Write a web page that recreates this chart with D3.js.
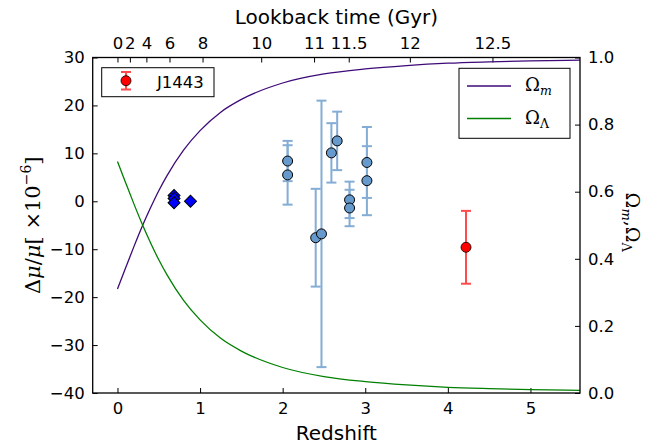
<!DOCTYPE html>
<html>
<head>
<meta charset="utf-8">
<script src="https://cdn.jsdelivr.net/npm/d3@7"></script>
<style>
  body { margin: 0; background: #fff; }
  text { font-family: "DejaVu Sans", sans-serif; fill: #000; }
  .serif { font-family: "DejaVu Serif", serif; }
</style>
</head>
<body>
<script>
// Measurements (redshift, delta mu / mu in 1e-6)
var blueZ = [2.06, 2.06, 2.40, 2.47, 2.59, 2.66, 2.81, 2.81, 3.02, 3.02];
var blueDmu = [8.4, 5.5, -7.6, -6.8, 10.1, 12.6, 0.3, -1.4, 8.1, 4.3];
var blueErr = [4.2, 6.2, 10.2, 27.8, 6.2, 6.1, 3.8, 3.8, 7.4, 7.2];

var diamondZ = [0.685, 0.685, 0.685, 0.884];
var diamondDmu = [1.2, 0.6, -0.3, 0.0];

var redZ = [4.22];
var redDmu = [-9.6];
var redErr = [7.6];

// Density parameters
var omegaZ = [0, 0.1, 0.2, 0.3, 0.4, 0.5, 0.6, 0.8, 1.0, 1.25, 1.5, 2, 2.5, 3, 3.5, 4, 4.5, 5, 5.6];
var omegaM = [0.310, 0.374, 0.437, 0.497, 0.552, 0.603, 0.648, 0.724, 0.782, 0.837, 0.875, 0.924, 0.951, 0.966, 0.976, 0.983, 0.987, 0.990, 0.992];
var omegaL = [0.690, 0.626, 0.563, 0.503, 0.448, 0.397, 0.352, 0.276, 0.218, 0.163, 0.125, 0.076, 0.049, 0.034, 0.024, 0.017, 0.013, 0.010, 0.008];

// Top axis: lookback time labels at their redshifts
var lookbackLabels = ['0', '2', '4', '6', '8', '10', '11', '11.5', '12', '12.5'];
var lookbackZ = [0, 0.15, 0.35, 0.63, 1.03, 1.74, 2.38, 2.8, 3.54, 4.54];

var bottomTicks = [0, 1, 2, 3, 4, 5];
var leftTicks = [-40, -30, -20, -10, 0, 10, 20, 30];
var rightTicks = [0, 0.2, 0.4, 0.6, 0.8, 1.0];

var width = 667;
var height = 447;
var plotLeft = 92.7, plotRight = 580, plotTop = 57.5, plotBottom = 393;

var svg = d3.select('body').append('svg').attr('width', width).attr('height', height);

var x = d3.scaleLinear().domain([-0.3, 5.6]).range([plotLeft, plotRight]);
var y = d3.scaleLinear().domain([-40, 30]).range([plotBottom, plotTop]);
var yR = d3.scaleLinear().domain([0, 1]).range([plotBottom, plotTop]);

var minus = function (s) { return s.replace('-', '\u2212'); };

// Axes, ticks pointing inward
var axisB = svg.append('g').attr('transform', 'translate(0,' + plotBottom + ')')
  .call(d3.axisBottom(x).tickValues(bottomTicks).tickSizeInner(-5).tickSizeOuter(0).tickPadding(9).tickFormat(d3.format('d')));
var axisT = svg.append('g').attr('transform', 'translate(0,' + plotTop + ')')
  .call(d3.axisTop(x).tickValues(lookbackZ).tickSizeInner(-5).tickSizeOuter(0).tickPadding(9)
    .tickFormat(function (d, i) { return lookbackLabels[i]; }));
var axisL = svg.append('g').attr('transform', 'translate(' + plotLeft + ',0)')
  .call(d3.axisLeft(y).tickValues(leftTicks).tickSizeInner(-5).tickSizeOuter(0).tickPadding(8)
    .tickFormat(function (d) { return minus(d3.format('d')(d)); }));
var axisR = svg.append('g').attr('transform', 'translate(' + plotRight + ',0)')
  .call(d3.axisRight(yR).tickValues(rightTicks).tickSizeInner(-5).tickSizeOuter(0).tickPadding(8).tickFormat(d3.format('.1f')));

[axisB, axisT, axisL, axisR].forEach(function (a) {
  a.select('.domain').remove();
  a.selectAll('.tick line').attr('stroke', '#000').attr('stroke-width', 1);
  a.selectAll('.tick text').style('font-family', '"DejaVu Sans", sans-serif').style('font-size', '16.5px').attr('fill', '#000');
});

// Omega curves
var line = d3.line().curve(d3.curveMonotoneX);
svg.append('path')
  .attr('d', line(omegaZ.map(function (z, i) { return [x(z), yR(omegaM[i])]; })))
  .attr('fill', 'none').attr('stroke', '#3d0a78').attr('stroke-width', 1.3);
svg.append('path')
  .attr('d', line(omegaZ.map(function (z, i) { return [x(z), yR(omegaL[i])]; })))
  .attr('fill', 'none').attr('stroke', '#008000').attr('stroke-width', 1.3);

// Error bars helper
var drawErrors = function (g, zs, vals, errs, color, opacity) {
  var d = zs.map(function (z, i) { return {z: z, v: vals[i], e: errs[i]}; });
  var grp = g.append('g').attr('stroke', color).attr('stroke-width', 2).attr('opacity', opacity);
  grp.selectAll('.bar').data(d).enter().append('line')
    .attr('x1', function (d) { return x(d.z); }).attr('x2', function (d) { return x(d.z); })
    .attr('y1', function (d) { return y(d.v + d.e); }).attr('y2', function (d) { return y(d.v - d.e); });
  grp.selectAll('.capT').data(d).enter().append('line')
    .attr('x1', function (d) { return x(d.z) - 5; }).attr('x2', function (d) { return x(d.z) + 5; })
    .attr('y1', function (d) { return y(d.v + d.e); }).attr('y2', function (d) { return y(d.v + d.e); });
  grp.selectAll('.capB').data(d).enter().append('line')
    .attr('x1', function (d) { return x(d.z) - 5; }).attr('x2', function (d) { return x(d.z) + 5; })
    .attr('y1', function (d) { return y(d.v - d.e); }).attr('y2', function (d) { return y(d.v - d.e); });
};

drawErrors(svg, blueZ, blueDmu, blueErr, '#6699cc', 0.8);
drawErrors(svg, redZ, redDmu, redErr, '#ff0000', 0.7);

svg.append('g').selectAll('circle').data(blueZ).enter().append('circle')
  .attr('cx', function (d) { return x(d); })
  .attr('cy', function (d, i) { return y(blueDmu[i]); })
  .attr('r', 5).attr('fill', '#6699cc').attr('stroke', '#000').attr('stroke-width', 1);

svg.append('g').selectAll('circle').data(redZ).enter().append('circle')
  .attr('cx', function (d) { return x(d); })
  .attr('cy', function (d, i) { return y(redDmu[i]); })
  .attr('r', 5).attr('fill', '#ff0000').attr('stroke', '#000').attr('stroke-width', 0.8);

var diamond = d3.symbol().type(d3.symbolSquare).size(72);
svg.append('g').selectAll('path').data(diamondZ).enter().append('path')
  .attr('d', diamond)
  .attr('transform', function (d, i) { return 'translate(' + x(d) + ',' + y(diamondDmu[i]) + ') rotate(45)'; })
  .attr('fill', '#0000ff').attr('stroke', '#000').attr('stroke-width', 1);

// Frame
svg.append('rect').attr('x', plotLeft).attr('y', plotTop).attr('width', plotRight - plotLeft).attr('height', plotBottom - plotTop)
  .attr('fill', 'none').attr('stroke', '#000').attr('stroke-width', 1.3);

// Axis labels
svg.append('text').attr('x', (plotLeft + plotRight) / 2).attr('y', 440).attr('text-anchor', 'middle')
  .style('font-size', '20px').text('Redshift');
svg.append('text').attr('x', (plotLeft + plotRight) / 2).attr('y', 24).attr('text-anchor', 'middle')
  .style('font-size', '20px').text('Lookback time (Gyr)');

var yl = svg.append('text').attr('class', 'serif').attr('text-anchor', 'middle')
  .attr('transform', 'translate(40,' + (plotTop + plotBottom) / 2 + ') rotate(-90)')
  .style('font-size', '21px');
yl.append('tspan').text('\u0394');
yl.append('tspan').style('font-style', 'italic').text('\u03bc');
yl.append('tspan').text('/');
yl.append('tspan').style('font-style', 'italic').text('\u03bc');
yl.append('tspan').text('[ \u00d710');
yl.append('tspan').attr('dy', -9).style('font-size', '14px').text('\u22126');
yl.append('tspan').attr('dy', 9).text(']');

var yr = svg.append('text').attr('class', 'serif').attr('text-anchor', 'middle')
  .attr('transform', 'translate(626,' + ((plotTop + plotBottom) / 2 - 3) + ') rotate(90)')
  .style('font-size', '19px');
yr.append('tspan').text('\u03a9');
yr.append('tspan').attr('dy', 4).style('font-size', '13px').style('font-style', 'italic').text('m');
yr.append('tspan').attr('dy', -4).text(',\u03a9');
yr.append('tspan').attr('dy', 4).style('font-size', '13px').text('\u039b');

// Legend for J1443
svg.append('rect').attr('x', 101.7).attr('y', 67.7).attr('width', 112.3).attr('height', 29)
  .attr('fill', '#fff').attr('stroke', '#000').attr('stroke-width', 1);
var lg1 = svg.append('g').attr('stroke', '#ff0000').attr('stroke-width', 2).attr('opacity', 0.7);
lg1.append('line').attr('x1', 126).attr('x2', 126).attr('y1', 72).attr('y2', 89.5);
lg1.append('line').attr('x1', 121).attr('x2', 131).attr('y1', 72).attr('y2', 72);
lg1.append('line').attr('x1', 121).attr('x2', 131).attr('y1', 89.5).attr('y2', 89.5);
svg.append('circle').attr('cx', 126).attr('cy', 80.7).attr('r', 5)
  .attr('fill', '#ff0000').attr('stroke', '#000').attr('stroke-width', 0.8);
svg.append('text').attr('x', 157).attr('y', 87.5).style('font-size', '16.5px').text('J1443');

// Legend for the density parameters
svg.append('rect').attr('x', 459).attr('y', 68.3).attr('width', 111).attr('height', 70)
  .attr('fill', '#fff').attr('stroke', '#000').attr('stroke-width', 1);
svg.append('line').attr('x1', 467).attr('x2', 511).attr('y1', 86).attr('y2', 86)
  .attr('stroke', '#3d0a78').attr('stroke-width', 1.3);
svg.append('line').attr('x1', 467).attr('x2', 511).attr('y1', 118.5).attr('y2', 118.5)
  .attr('stroke', '#008000').attr('stroke-width', 1.3);
var l1 = svg.append('text').attr('class', 'serif').attr('x', 525).attr('y', 91).style('font-size', '18px');
l1.append('tspan').text('\u03a9');
l1.append('tspan').attr('dy', 4).style('font-size', '12.5px').style('font-style', 'italic').text('m');
var l2 = svg.append('text').attr('class', 'serif').attr('x', 525).attr('y', 124).style('font-size', '18px');
l2.append('tspan').text('\u03a9');
l2.append('tspan').attr('dy', 4).style('font-size', '12.5px').text('\u039b');
</script>
</body>
</html>
